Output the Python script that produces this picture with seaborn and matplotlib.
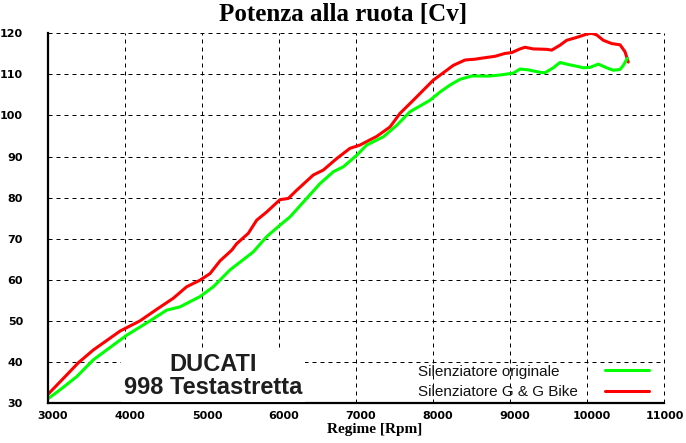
import matplotlib
matplotlib.use("Agg")
import matplotlib.pyplot as plt
import matplotlib.transforms as mtransforms
from matplotlib.lines import Line2D
import seaborn as sns
import pandas as pd

# ---------------- data ----------------
rpm_gg = [3004, 3221, 3394, 3588, 3762, 3935, 4195, 4412, 4627, 4801, 4974, 5104,
          5234, 5386, 5451, 5601, 5710, 5840, 6013, 6121, 6230, 6445, 6575, 6749,
          6922, 7052, 7269, 7442, 7571, 7744, 8004, 8091, 8178, 8264, 8416, 8546,
          8653, 8805, 8935, 9022, 9130, 9195, 9303, 9476, 9541, 9649, 9736, 9866,
          9996, 10061, 10126, 10212, 10321, 10429, 10494, 10536]
cv_gg = [32.2, 36.4, 39.8, 42.9, 45.2, 47.5, 50.0, 52.8, 55.5, 58.3, 59.9, 61.5,
         64.6, 67.2, 68.8, 71.3, 74.5, 76.5, 79.5, 79.8, 81.8, 85.5, 86.7, 89.5,
         92.0, 92.8, 94.9, 97.2, 100.5, 103.7, 108.6, 109.8, 111.0, 112.2, 113.5, 113.7,
         114.0, 114.4, 115.1, 115.3, 116.2, 116.6, 116.2, 116.1, 115.9, 117.1, 118.3, 119.0,
         119.8, 120.0, 119.6, 118.3, 117.5, 117.2, 115.5, 113.0]

rpm_orig = [3004, 3156, 3372, 3588, 3848, 4022, 4325, 4541, 4714, 4974, 5147, 5364,
            5667, 5840, 6013, 6143, 6359, 6532, 6706, 6835, 7009, 7139, 7355, 7529,
            7701, 7961, 8091, 8221, 8351, 8502, 8740, 8892, 9043, 9130, 9238, 9390,
            9455, 9562, 9649, 9757, 9887, 9952, 10039, 10147, 10256, 10342, 10429,
            10472, 10524]
cv_orig = [31.1, 33.2, 36.4, 40.5, 44.1, 46.5, 50.0, 52.6, 53.4, 55.9, 58.3, 62.4,
           66.8, 70.5, 73.3, 75.3, 79.8, 83.4, 86.3, 87.5, 90.3, 92.8, 94.8, 97.6,
           100.9, 103.7, 105.7, 107.4, 108.8, 109.6, 109.6, 109.9, 110.3, 111.3, 111.1, 110.5,
           110.4, 111.6, 112.9, 112.4, 111.9, 111.6, 111.7, 112.5, 111.6, 111.0, 111.2,
           112.2, 113.9]

x_ticks = [3000, 4000, 5000, 6000, 7000, 8000, 9000, 10000, 11000]
y_ticks = [30, 40, 50, 60, 70, 80, 90, 100, 110, 120]
series_labels = ["Silenziatore originale", "Silenziatore G & G Bike"]
title_text = "Potenza alla ruota [Cv]"
xlabel_text = "Regime [Rpm]"
note_text = "DUCATI\n998 Testastretta"

# ---------------- style ----------------
sns.set_theme(style="white")
plt.rcParams["font.family"] = ["DejaVu Sans"]

W, H = 686, 443
fig = plt.figure(figsize=(W / 100, H / 100), dpi=100)
fig.patch.set_facecolor("white")
ax = fig.add_axes([48 / W, (H - 403) / H, (664 - 48) / W, (403 - 33.3) / H])
ax.set_facecolor("white")

RED = "#ff0000"
GREEN = "#00ff00"

df_gg = pd.DataFrame({"rpm": rpm_gg, "cv": cv_gg})
df_orig = pd.DataFrame({"rpm": rpm_orig, "cv": cv_orig})
sns.lineplot(data=df_gg, x="rpm", y="cv", color=RED, linewidth=2.2, sort=False, ax=ax)
sns.lineplot(data=df_orig, x="rpm", y="cv", color=GREEN, linewidth=2.2, sort=False, ax=ax)

ax.set_xlim(x_ticks[0], x_ticks[-1])
ax.set_ylim(y_ticks[0], y_ticks[-1])
ax.set_xticks(x_ticks)
ax.set_yticks(y_ticks)
ax.set_xlabel("")
ax.set_ylabel("")

ax.grid(True, color="black", linestyle=(0, (4, 4)), linewidth=0.72)
for gl in ax.get_xgridlines() + ax.get_ygridlines():
    gl.set_clip_on(False)

for side in ["top", "right"]:
    ax.spines[side].set_visible(False)
for side in ["left", "bottom"]:
    ax.spines[side].set_color("black")
    ax.spines[side].set_linewidth(1.6)

ax.tick_params(axis="both", length=0, labelsize=8, colors="black")
ax.tick_params(axis="y", pad=18)
ax.tick_params(axis="x", pad=5.5)
for lab in ax.get_xticklabels() + ax.get_yticklabels():
    lab.set_fontweight("bold")
shift = mtransforms.ScaledTranslation(0.05, 0, fig.dpi_scale_trans)
xlabs = ax.get_xticklabels()
for lab in xlabs[:-1]:
    lab.set_transform(lab.get_transform() + shift)
# last label kept inside the canvas
xlabs[-1].set_horizontalalignment("right")
xlabs[-1].set_transform(xlabs[-1].get_transform()
                        + mtransforms.ScaledTranslation(0.2, 0, fig.dpi_scale_trans))

# titles
fig.text(0.5, 1 - 15 / H, title_text, ha="center", va="center",
         family="Liberation Serif", fontweight="bold", fontsize=18, color="black")
fig.text(375 / W, 1 - 429 / H, xlabel_text, ha="center", va="center",
         family="Liberation Serif", fontweight="bold", fontsize=11, color="black")

# note box
ax.text((213 - 48) / 616, (403 - 376) / 369.7, note_text, transform=ax.transAxes,
        ha="center", va="center", multialignment="center", linespacing=1.0,
        family="Liberation Sans", fontweight="bold", fontsize=17, color="#1e1e1e",
        bbox=dict(boxstyle="square,pad=0.12", facecolor="white", edgecolor="none"),
        zorder=5)

# legend: labels in first column, line samples in second column
blank = Line2D([], [], color="none")
h_orig = Line2D([], [], color=GREEN, linewidth=2.2)
h_gg = Line2D([], [], color=RED, linewidth=2.2)
leg = ax.legend([blank, blank, h_orig, h_gg], [series_labels[0], series_labels[1], "", ""],
                ncol=2, frameon=False, prop={"family": "Liberation Sans", "size": 11},
                handlelength=2.88, handletextpad=0.0, columnspacing=1.75,
                labelspacing=0.42, borderpad=0, borderaxespad=0,
                loc="center left", bbox_to_anchor=(374 / W, 1 - 382 / H),
                bbox_transform=fig.transFigure)
for t in leg.get_texts():
    t.set_color("#111111")

fig.savefig("out.png", dpi=100, facecolor="white")
